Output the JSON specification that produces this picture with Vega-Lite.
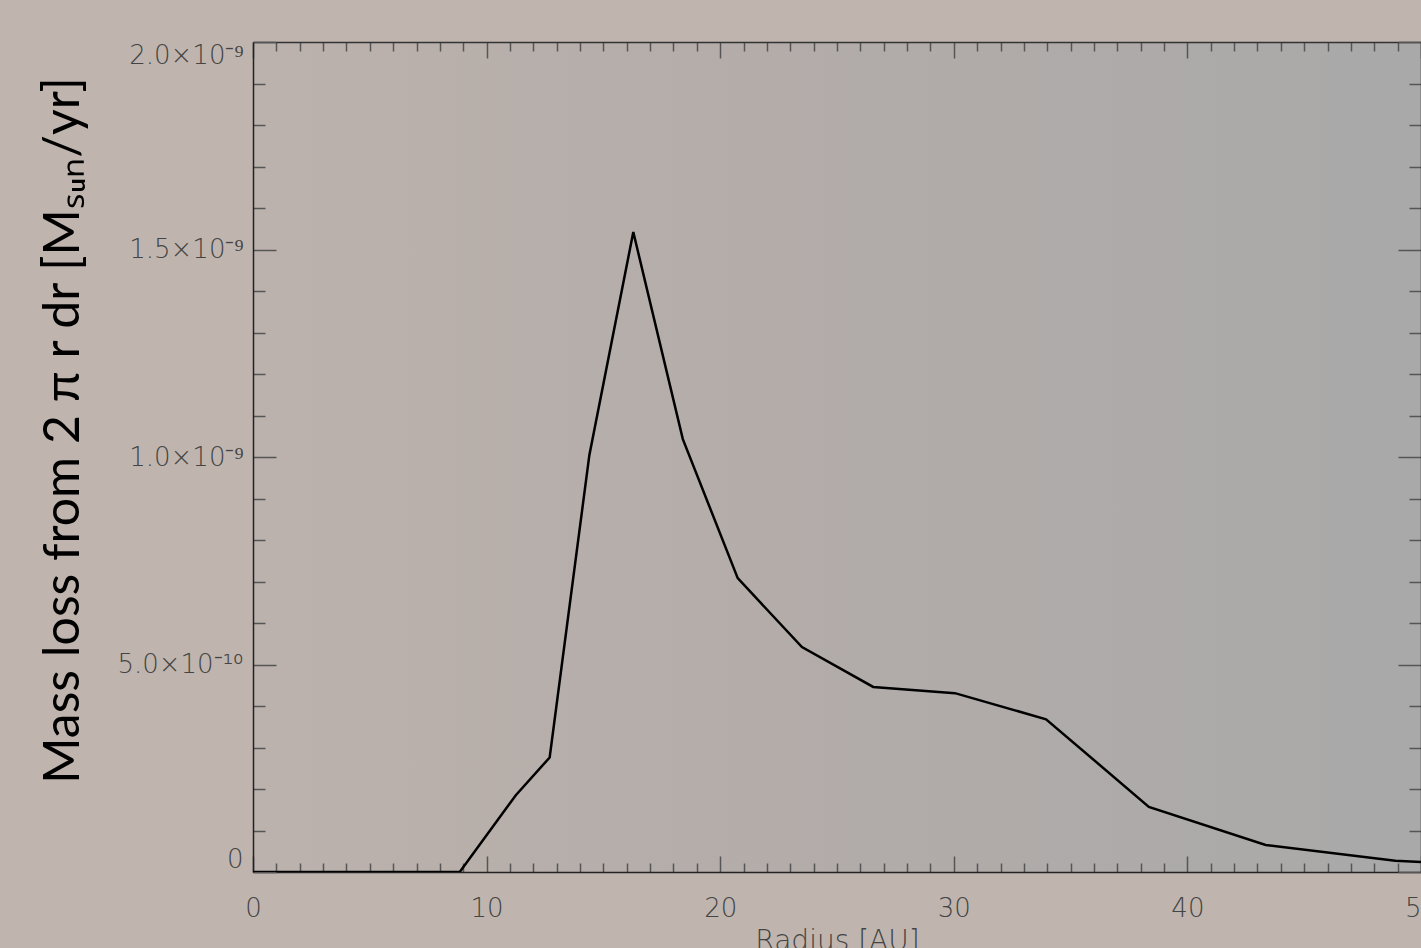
{
  "$schema": "https://vega.github.io/schema/vega-lite/v6.json",
  "autosize": {"type": "none"},
  "padding": {"left": 253, "top": 42, "right": 0, "bottom": 76},
  "width": 1168,
  "height": 830,
  "background": "#bfb5ae",
  "view": {"stroke": null, "fill": {"expr": "{gradient: 'linear', x1: 0, y1: 0, x2: 1, y2: 0, stops: [{offset: 0, color: '#bcb2ad'}, {offset: 0.45, color: '#b3aca9'}, {offset: 1, color: '#a9a9a9'}]}"}},
  "data": {
    "values": [
      {"r": 0, "m": 0},
      {"r": 8.85, "m": 0},
      {"r": 11.25, "m": 0.185e-9},
      {"r": 12.7, "m": 0.276e-9},
      {"r": 14.4, "m": 1.005e-9},
      {"r": 16.28, "m": 1.542e-9},
      {"r": 18.4, "m": 1.043e-9},
      {"r": 20.75, "m": 0.708e-9},
      {"r": 23.5, "m": 0.542e-9},
      {"r": 26.55, "m": 0.446e-9},
      {"r": 30.05, "m": 0.431e-9},
      {"r": 33.95, "m": 0.368e-9},
      {"r": 38.35, "m": 0.157e-9},
      {"r": 43.35, "m": 0.065e-9},
      {"r": 48.9, "m": 0.027e-9},
      {"r": 50, "m": 0.024e-9}
    ]
  },
  "layer": [
    {
      "mark": {"type": "line", "color": "#000000", "strokeWidth": 2.5, "clip": true},
      "encoding": {
        "x": {
          "field": "r", "type": "quantitative",
          "scale": {"domain": [0, 50], "nice": false, "zero": false},
          "axis": {
            "orient": "bottom",
            "values": [0,1,2,3,4,5,6,7,8,9,10,11,12,13,14,15,16,17,18,19,20,21,22,23,24,25,26,27,28,29,30,31,32,33,34,35,36,37,38,39,40,41,42,43,44,45,46,47,48,49,50],
            "labelExpr": "datum.value % 10 === 0 ? format(datum.value, 'd') : ''",
            "tickSize": {"condition": {"test": "datum.value % 10 === 0", "value": -16}, "value": -9},
            "tickColor": "#555555",
            "tickWidth": 1.5,
            "domainColor": "#222222",
            "domainWidth": 1.5,
            "grid": false,
            "labelFont": "DejaVu Sans",
            "labelFontWeight": 200,
            "labelFontSize": 26,
            "labelColor": "#444444",
            "labelPadding": 39,
            "labelBaseline": "top",
            "labelFlush": false,
            "labelOverlap": false,
            "title": "Radius [AU]",
            "titleFont": "DejaVu Sans",
            "titleFontWeight": 200,
            "titleFontSize": 28,
            "titleColor": "#444444",
            "titleBaseline": "top",
            "titleY": 55
          }
        },
        "y": {
          "field": "m", "type": "quantitative",
          "scale": {"domain": [0, 2e-9], "nice": false, "zero": false},
          "axis": {
            "orient": "left",
            "values": [0, 1e-10, 2e-10, 3e-10, 4e-10, 5e-10, 6e-10, 7e-10, 8e-10, 9e-10, 1e-9, 1.1e-9, 1.2e-9, 1.3e-9, 1.4e-9, 1.5e-9, 1.6e-9, 1.7e-9, 1.8e-9, 1.9e-9, 2e-9],
            "labelExpr": "round(datum.value * 1e10) === 0 ? '0' : round(datum.value * 1e10) === 5 ? '5.0×10⁻¹⁰' : round(datum.value * 1e10) === 10 ? '1.0×10⁻⁹' : round(datum.value * 1e10) === 15 ? '1.5×10⁻⁹' : round(datum.value * 1e10) === 20 ? '2.0×10⁻⁹' : ''",
            "tickSize": {"condition": {"test": "round(datum.value * 1e10) % 5 === 0", "value": -23}, "value": -12},
            "tickColor": "#555555",
            "tickWidth": 1.5,
            "domainColor": "#222222",
            "domainWidth": 1.5,
            "grid": false,
            "labelFont": "DejaVu Sans",
            "labelFontWeight": 200,
            "labelFontSize": 26,
            "labelColor": "#444444",
            "labelPadding": 33,
            "labelFlush": true,
            "labelOverlap": false,
            "title": "Mass loss from 2 π r dr [Mₛᵤₙ/yr]",
            "titleFont": "Lato",
            "titleFontWeight": "normal",
            "titleFontSize": 50,
            "titleColor": "#000000",
            "titleAngle": 270,
            "titleAlign": "center",
            "titleBaseline": "middle",
            "titleX": -190,
            "titleY": 388
          }
        }
      }
    },
    {
      "mark": {"type": "line", "strokeOpacity": 0},
      "encoding": {
        "x": {
          "field": "r", "type": "quantitative",
          "axis": {
            "orient": "top",
            "values": [0,1,2,3,4,5,6,7,8,9,10,11,12,13,14,15,16,17,18,19,20,21,22,23,24,25,26,27,28,29,30,31,32,33,34,35,36,37,38,39,40,41,42,43,44,45,46,47,48,49,50],
            "labels": false,
            "title": null,
            "tickSize": {"condition": {"test": "datum.value % 10 === 0", "value": -16}, "value": -9},
            "tickColor": "#555555",
            "tickWidth": 1.5,
            "domainColor": "#333333",
            "domainWidth": 1.5,
            "grid": false
          }
        },
        "y": {
          "field": "m", "type": "quantitative",
          "axis": {
            "orient": "right",
            "values": [0, 1e-10, 2e-10, 3e-10, 4e-10, 5e-10, 6e-10, 7e-10, 8e-10, 9e-10, 1e-9, 1.1e-9, 1.2e-9, 1.3e-9, 1.4e-9, 1.5e-9, 1.6e-9, 1.7e-9, 1.8e-9, 1.9e-9, 2e-9],
            "labels": false,
            "title": null,
            "tickSize": {"condition": {"test": "round(datum.value * 1e10) % 5 === 0", "value": -23}, "value": -12},
            "tickColor": "#555555",
            "tickWidth": 1.5,
            "domainColor": "#333333",
            "domainWidth": 1.5,
            "grid": false
          }
        }
      }
    }
  ],
  "resolve": {"axis": {"x": "independent", "y": "independent"}}
}
